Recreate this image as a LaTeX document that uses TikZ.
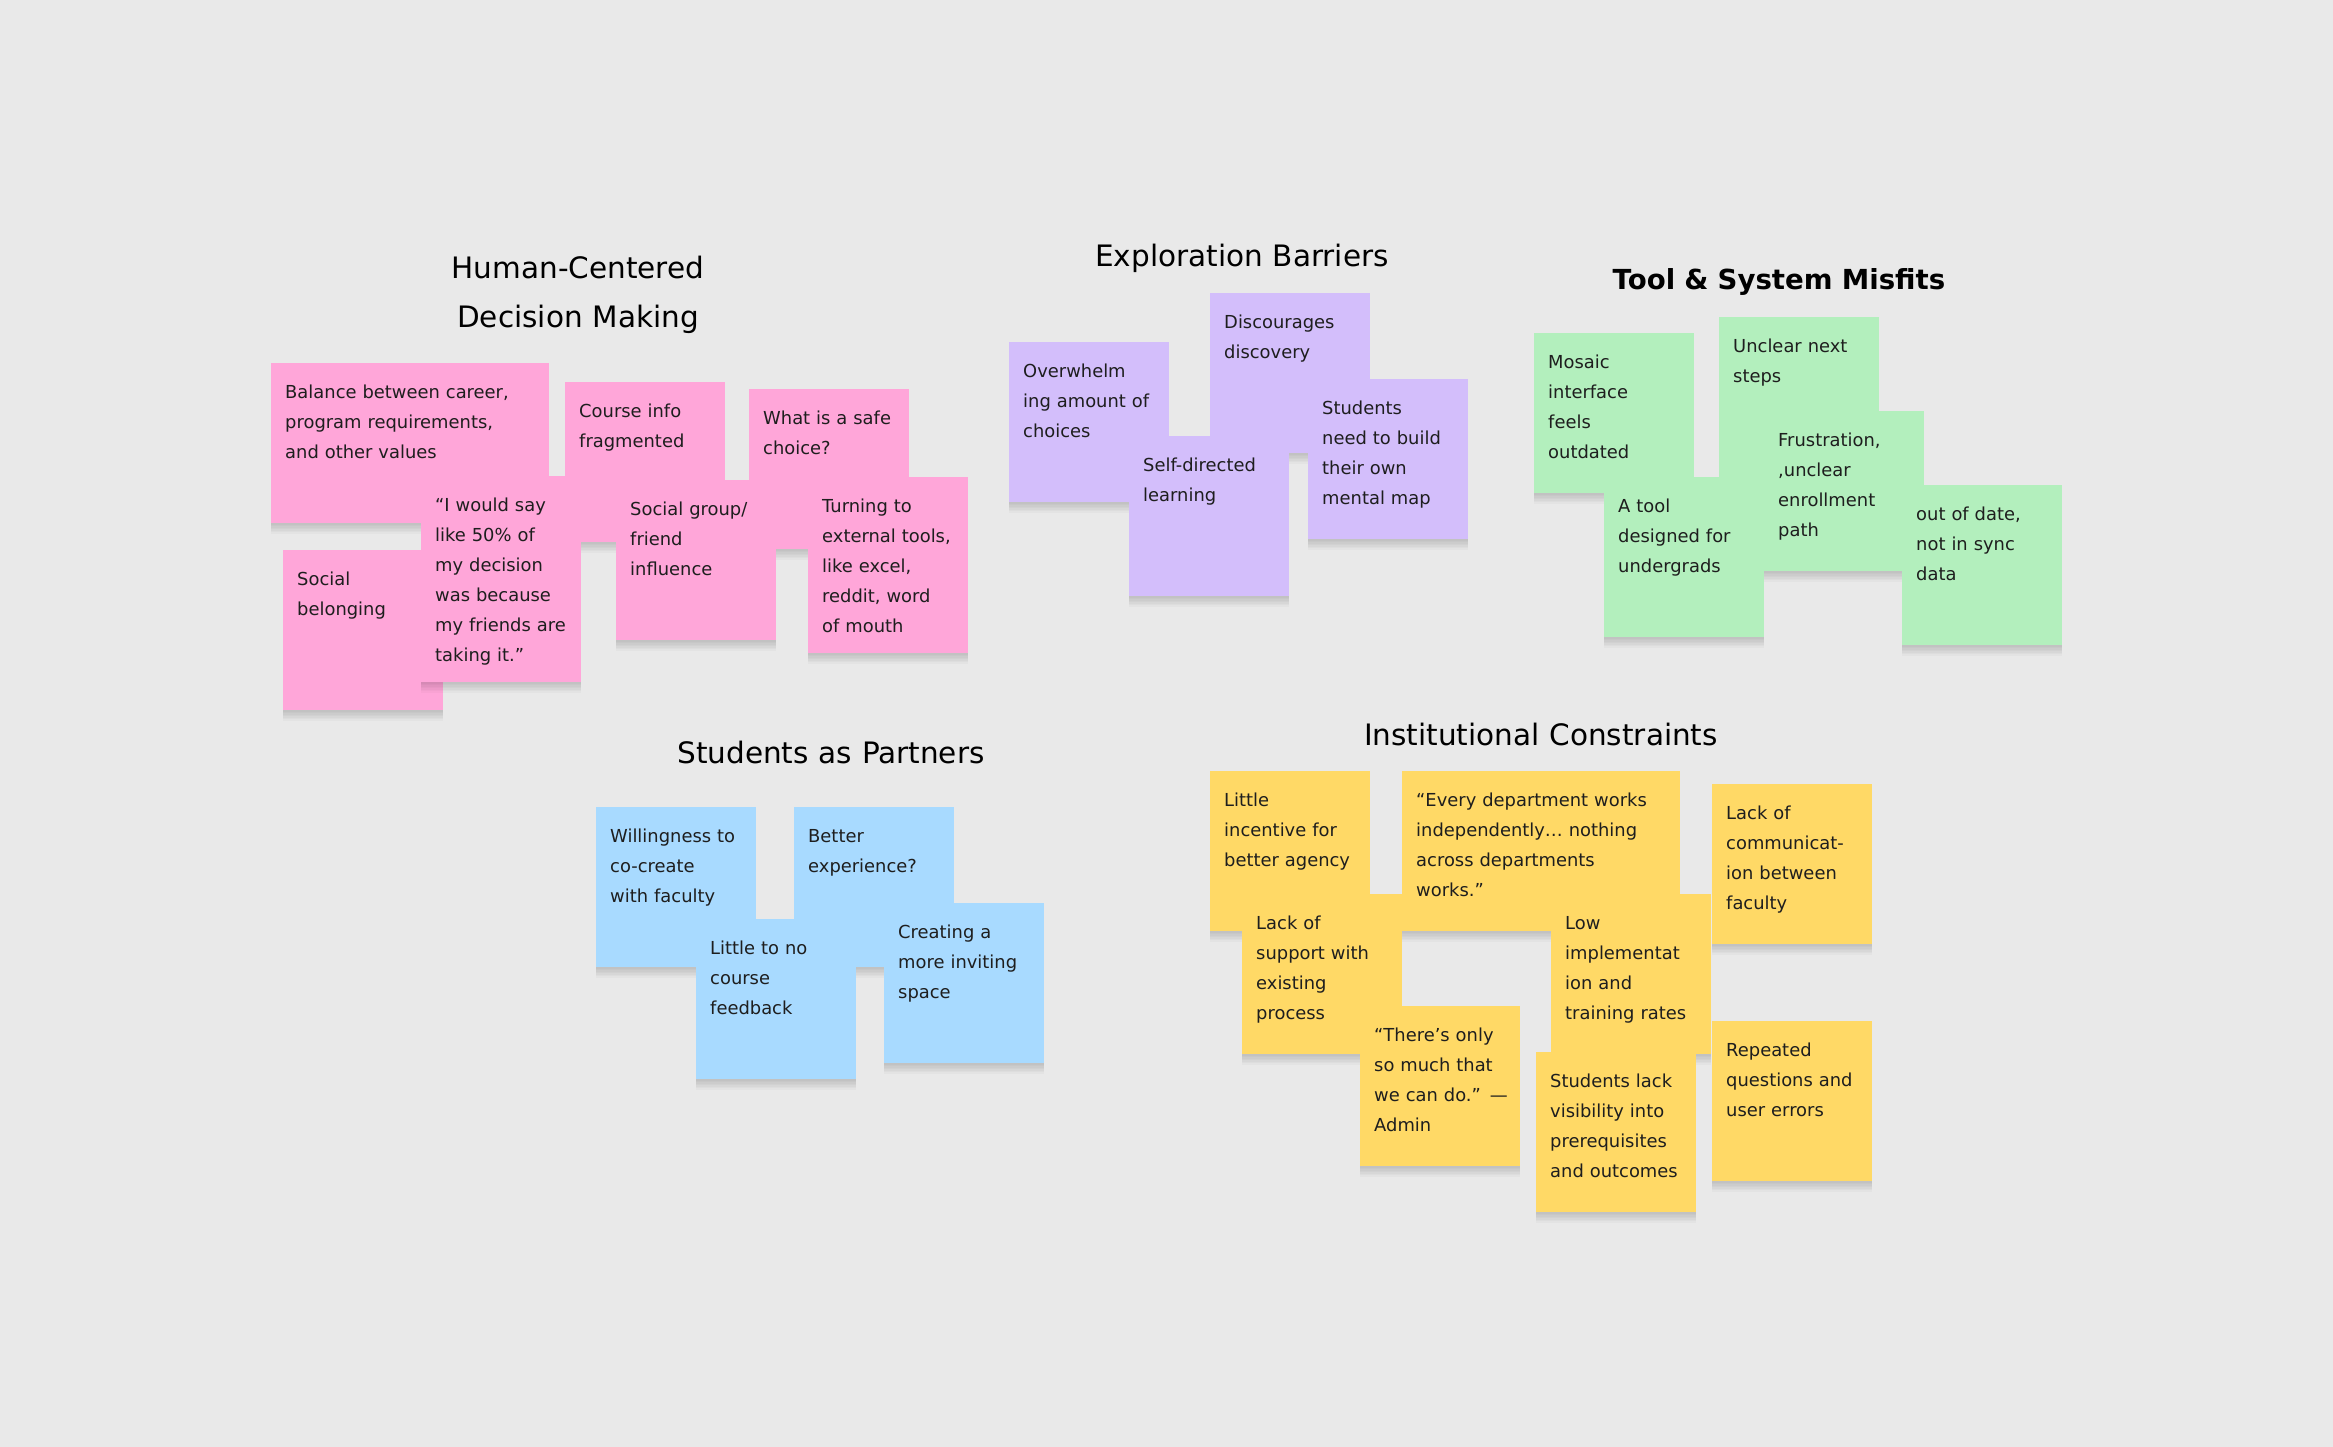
\documentclass[tikz,border=0pt]{standalone}
\usepackage{fontspec}
\setmainfont{DejaVu Sans}
\definecolor{bgS}{HTML}{E9E9E9}
\definecolor{pinkS}{HTML}{FFA6D9}
\definecolor{purpleS}{HTML}{D3BEFB}
\definecolor{greenS}{HTML}{B3EFBD}
\definecolor{blueS}{HTML}{A8DAFF}
\definecolor{yellowS}{HTML}{FFD966}
\definecolor{inkS}{HTML}{1E1E1E}
\begin{document}
\begin{tikzpicture}[x=1pt,y=-1pt,
  shadowlayer/.style={preaction={fill=black, fill opacity=0.022, transform canvas={yshift=#1}}},
  card/.style={anchor=north west, draw=none, inner sep=0pt, minimum height=160pt, minimum width=160pt,
    shadowlayer=-1.5pt, shadowlayer=-3pt, shadowlayer=-4.5pt, shadowlayer=-6pt,
    shadowlayer=-7.5pt, shadowlayer=-9pt, shadowlayer=-11pt},
  cardtext/.style={anchor=base west, inner sep=0pt, text width=144pt, align=left,
    font=\fontsize{17.9}{30}\selectfont, text=inkS},
  widetext/.style={cardtext, text width=262pt},
  heading/.style={anchor=base, inner sep=0pt, align=center, text width=500pt,
    font=\fontsize{29.5}{48}\selectfont, text=black}
]
\useasboundingbox (0,0) rectangle (2333,1447);
\fill[bgS] (0,0) rectangle (2333,1447);

% ---------- Headings ----------
\node[heading] (h1) at (578,279) {Human-Centered\\Decision Making};
\node[heading] (h2) at (1242,266) {Exploration Barriers};
\node[heading, font=\bfseries\fontsize{27.6}{48}\selectfont] (h3) at (1779,290) {Tool \& System Misfits};
\node[heading] (h4) at (831,763) {Students as Partners};
\node[heading] (h5) at (1541,745) {Institutional Constraints};

% ---------- Pink ----------
\node[card, fill=pinkS, minimum width=278pt] (p1) at (271,363) {};
\node[widetext] (p1t) at ([shift={(14pt,-35pt)}]p1.north west) {Balance between career,\\program requirements,\\and other values};
\node[card, fill=pinkS] (p2) at (565,382) {};
\node[cardtext] (p2t) at ([shift={(14pt,-35pt)}]p2.north west) {Course info\\fragmented};
\node[card, fill=pinkS] (p3) at (749,389) {};
\node[cardtext] (p3t) at ([shift={(14pt,-35pt)}]p3.north west) {What is a safe\\choice?};
\node[card, fill=pinkS] (p4) at (283,550) {};
\node[cardtext] (p4t) at ([shift={(14pt,-35pt)}]p4.north west) {Social\\belonging};
\node[card, fill=pinkS, minimum height=206pt] (p5) at (421,476) {};
\node[cardtext] (p5t) at ([shift={(14pt,-35pt)}]p5.north west) {“I would say\\like 50\% of\\my decision\\was because\\my friends are\\taking it.”};
\node[card, fill=pinkS] (p6) at (616,480) {};
\node[cardtext] (p6t) at ([shift={(14pt,-35pt)}]p6.north west) {Social group/\\friend\\influence};
\node[card, fill=pinkS, minimum height=176pt] (p7) at (808,477) {};
\node[cardtext] (p7t) at ([shift={(14pt,-35pt)}]p7.north west) {Turning to\\external tools,\\like excel,\\reddit, word\\of mouth};

% ---------- Purple ----------
\node[card, fill=purpleS] (e1) at (1009,342) {};
\node[cardtext] (e1t) at ([shift={(14pt,-35pt)}]e1.north west) {Overwhelm\\ing amount of\\choices};
\node[card, fill=purpleS] (e2) at (1210,293) {};
\node[cardtext] (e2t) at ([shift={(14pt,-35pt)}]e2.north west) {Discourages\\discovery};
\node[card, fill=purpleS] (e3) at (1129,436) {};
\node[cardtext] (e3t) at ([shift={(14pt,-35pt)}]e3.north west) {Self-directed\\learning};
\node[card, fill=purpleS] (e4) at (1308,379) {};
\node[cardtext] (e4t) at ([shift={(14pt,-35pt)}]e4.north west) {Students\\need to build\\their own\\mental map};

% ---------- Green ----------
\node[card, fill=greenS] (g1) at (1534,333) {};
\node[cardtext] (g1t) at ([shift={(14pt,-35pt)}]g1.north west) {Mosaic\\interface\\feels\\outdated};
\node[card, fill=greenS] (g2) at (1719,317) {};
\node[cardtext] (g2t) at ([shift={(14pt,-35pt)}]g2.north west) {Unclear next\\steps};
\node[card, fill=greenS] (g3) at (1604,477) {};
\node[cardtext] (g3t) at ([shift={(14pt,-35pt)}]g3.north west) {A tool\\designed for\\undergrads};
\node[card, fill=greenS] (g4) at (1764,411) {};
\node[cardtext] (g4t) at ([shift={(14pt,-35pt)}]g4.north west) {Frustration,\\,unclear\\enrollment\\path};
\node[card, fill=greenS] (g5) at (1902,485) {};
\node[cardtext] (g5t) at ([shift={(14pt,-35pt)}]g5.north west) {out of date,\\not in sync\\data};

% ---------- Blue ----------
\node[card, fill=blueS] (b1) at (596,807) {};
\node[cardtext] (b1t) at ([shift={(14pt,-35pt)}]b1.north west) {Willingness to\\co-create\\with faculty};
\node[card, fill=blueS] (b2) at (794,807) {};
\node[cardtext] (b2t) at ([shift={(14pt,-35pt)}]b2.north west) {Better\\experience?};
\node[card, fill=blueS] (b3) at (696,919) {};
\node[cardtext] (b3t) at ([shift={(14pt,-35pt)}]b3.north west) {Little to no\\course\\feedback};
\node[card, fill=blueS] (b4) at (884,903) {};
\node[cardtext] (b4t) at ([shift={(14pt,-35pt)}]b4.north west) {Creating a\\more inviting\\space};

% ---------- Yellow ----------
\node[card, fill=yellowS] (y1) at (1210,771) {};
\node[cardtext] (y1t) at ([shift={(14pt,-35pt)}]y1.north west) {Little\\incentive for\\better agency};
\node[card, fill=yellowS, minimum width=278pt] (y2) at (1402,771) {};
\node[widetext] (y2t) at ([shift={(14pt,-35pt)}]y2.north west) {“Every department works\\independently… nothing\\across departments\\works.”};
\node[card, fill=yellowS] (y3) at (1712,784) {};
\node[cardtext] (y3t) at ([shift={(14pt,-35pt)}]y3.north west) {Lack of\\communicat-\\ion between\\faculty};
\node[card, fill=yellowS] (y4) at (1242,894) {};
\node[cardtext] (y4t) at ([shift={(14pt,-35pt)}]y4.north west) {Lack of\\support with\\existing\\process};
\node[card, fill=yellowS] (y5) at (1551,894) {};
\node[cardtext] (y5t) at ([shift={(14pt,-35pt)}]y5.north west) {Low\\implementat\\ion and\\training rates};
\node[card, fill=yellowS] (y6) at (1360,1006) {};
\node[cardtext] (y6t) at ([shift={(14pt,-35pt)}]y6.north west) {“There’s only\\so much that\\we can do.” —\\Admin};
\node[card, fill=yellowS] (y7) at (1536,1052) {};
\node[cardtext] (y7t) at ([shift={(14pt,-35pt)}]y7.north west) {Students lack\\visibility into\\prerequisites\\and outcomes};
\node[card, fill=yellowS] (y8) at (1712,1021) {};
\node[cardtext] (y8t) at ([shift={(14pt,-35pt)}]y8.north west) {Repeated\\questions and\\user errors};
\end{tikzpicture}
\end{document}
